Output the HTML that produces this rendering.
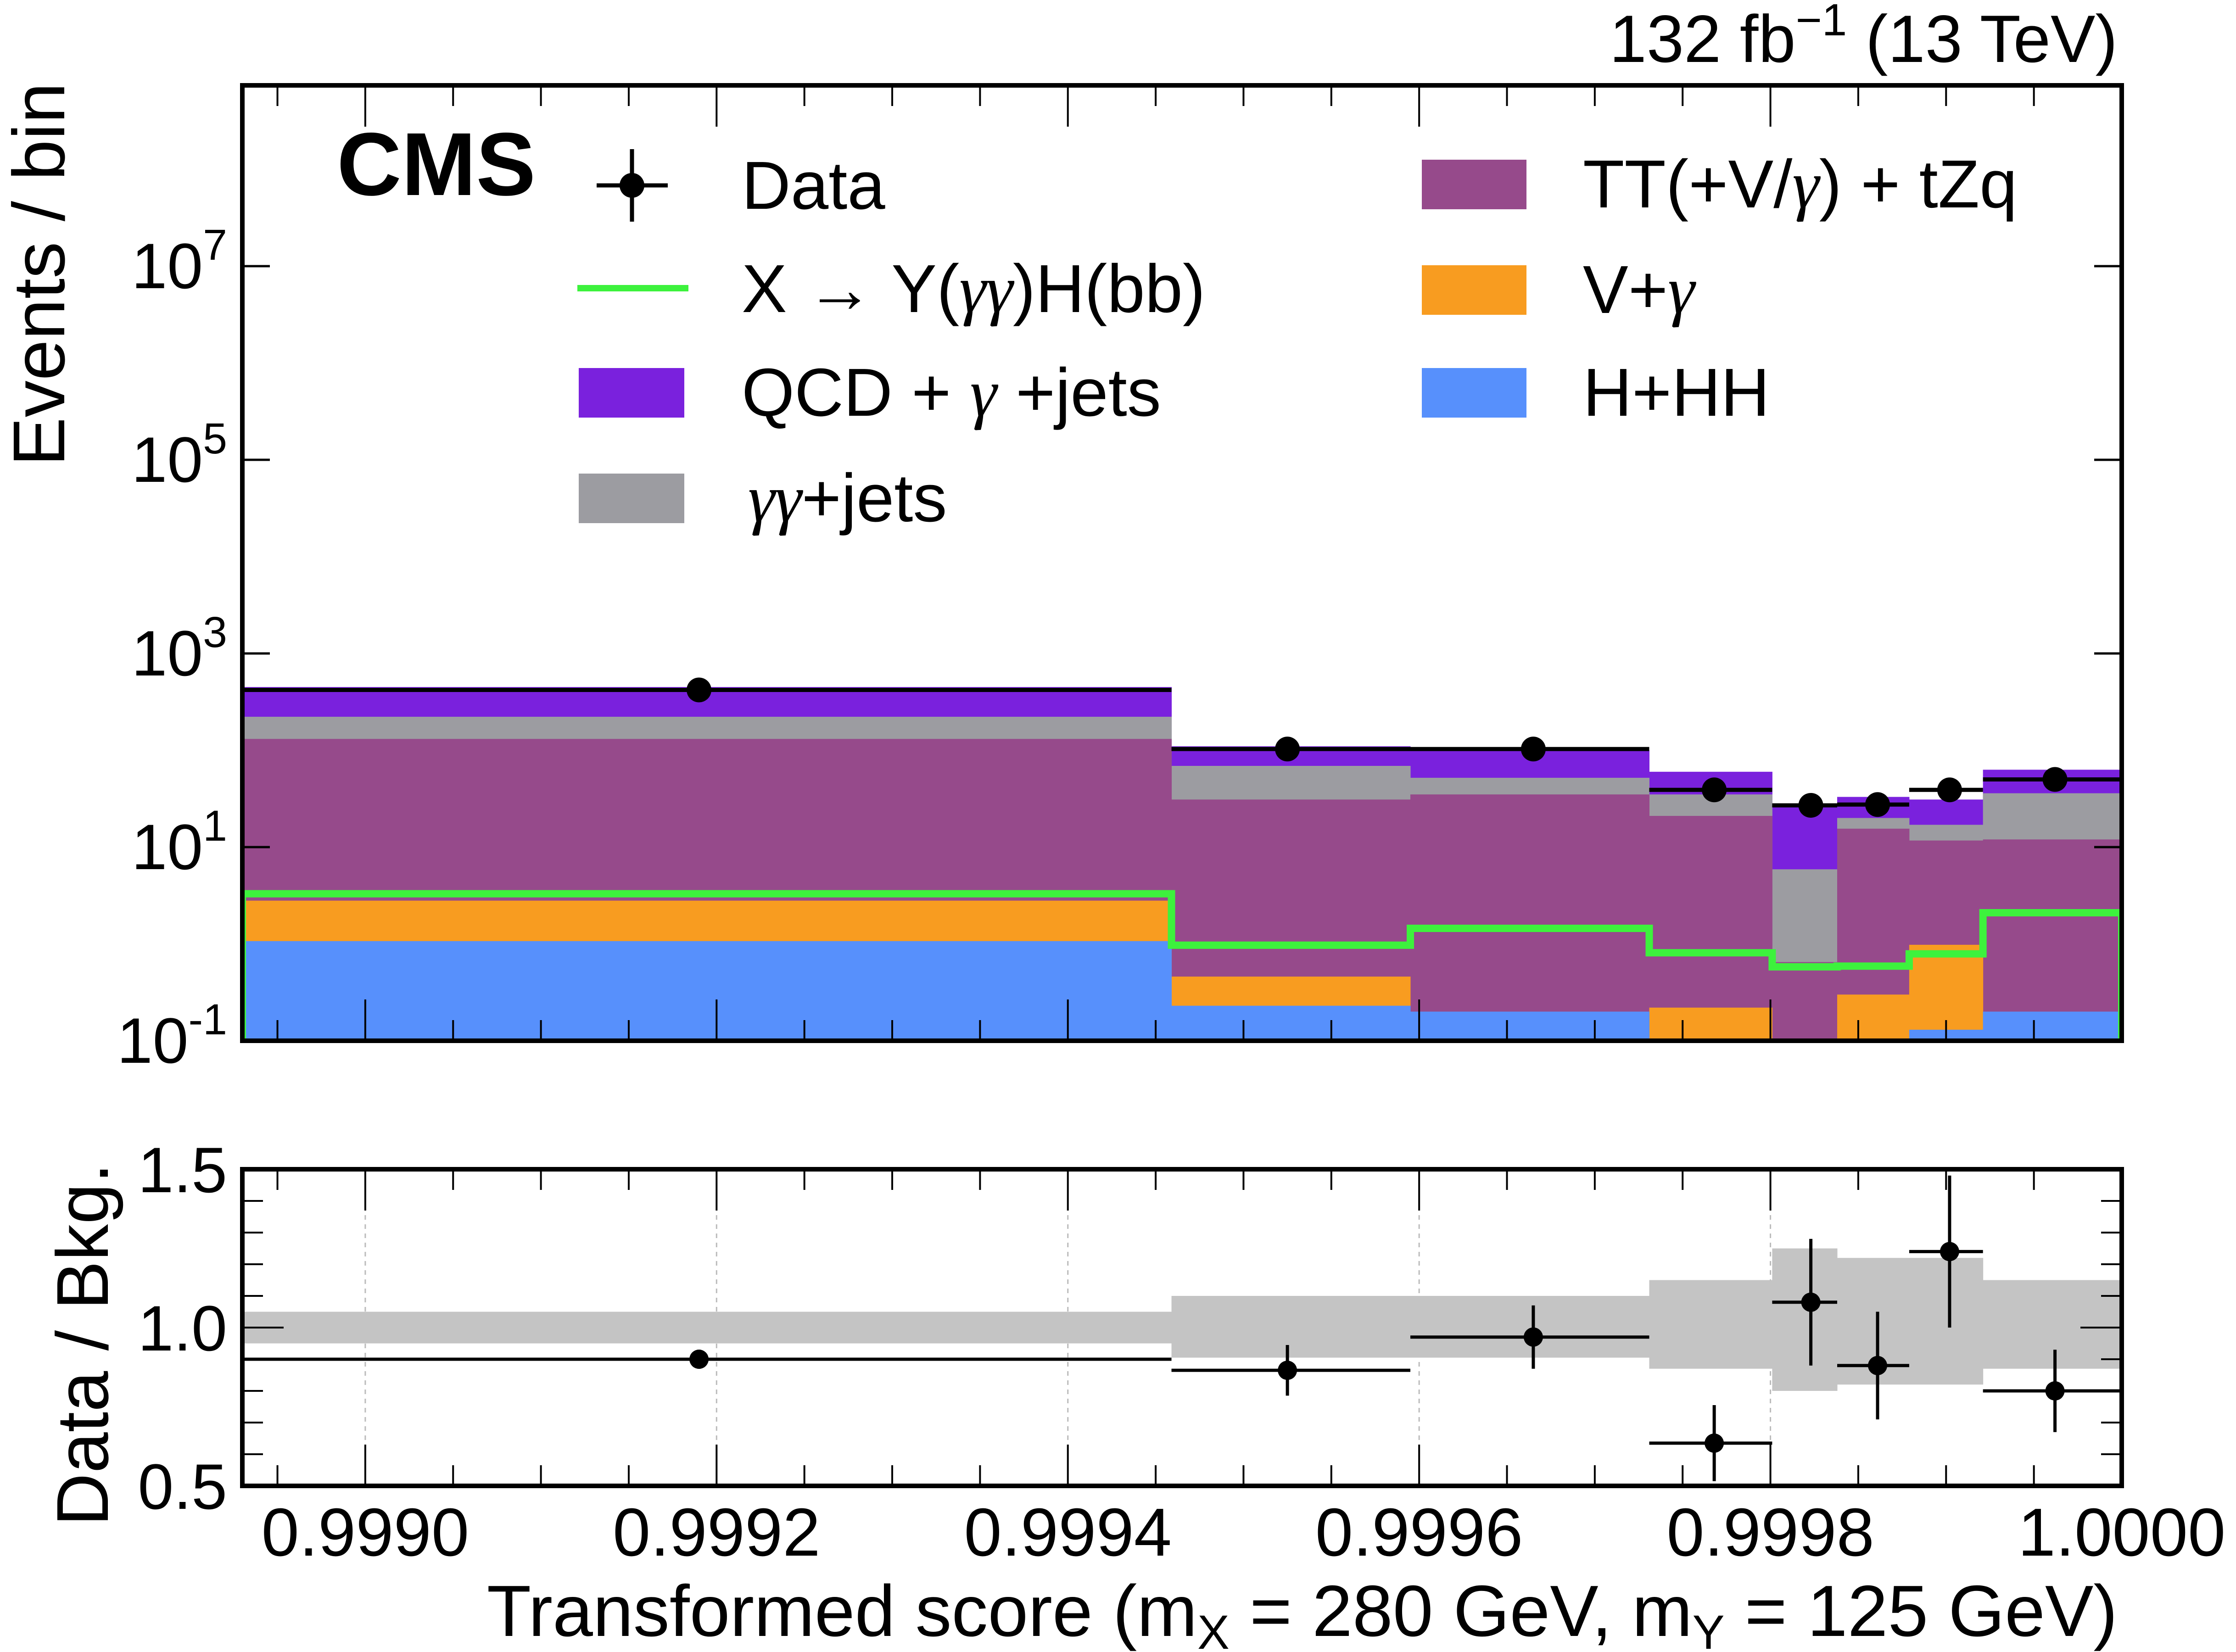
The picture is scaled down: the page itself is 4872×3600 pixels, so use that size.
<!DOCTYPE html>
<html><head><meta charset="utf-8">
<style>
html,body{margin:0;padding:0;background:#fff;}
svg{display:block;font-family:"Liberation Sans",sans-serif;}
</style></head>
<body>
<svg id="chart" width="4872" height="3600" viewBox="0 0 4872 3600" xmlns="http://www.w3.org/2000/svg">
<g id="main"></g>
<g id="ratio"></g>
<g id="labels"></g>
</svg>
<script>
// ---- data ----
const binEdges = [0.99893, 0.999459, 0.999595, 0.999731, 0.999801, 0.999838, 0.999879, 0.999921, 1.0];
// cumulative stack tops (bottom to top)
const hhTop   = [1.07, 0.23, 0.20, 0.05, 0.05, 0.05, 0.13, 0.20];
const vgTop   = [2.8, 0.46, 0.20, 0.22, 0.05, 0.30, 0.98, 0.20];
const ttTop   = [131, 31, 35, 21, 0.65, 15.5, 11.7, 12];
const ggTop   = [222, 69, 52, 35, 5.9, 20, 17, 36];
const qcdTop  = [450, 110, 100, 60, 26, 33, 31, 63];
const signal  = [3.3, 0.97, 1.45, 0.81, 0.58, 0.59, 0.79, 2.1];
const dataVal = [420, 103, 103, 39, 27, 27.5, 39, 50];
const dataX   = [0.99919, 0.999525, 0.999665, 0.999768, 0.999823, 0.999861, 0.999902, 0.999962];
const ratioVal = [0.90, 0.865, 0.97, 0.635, 1.08, 0.88, 1.24, 0.80];
const ratioErr = [0.03, 0.08, 0.10, 0.12, 0.20, 0.17, 0.24, 0.13];
const bandLo = [0.95, 0.905, 0.905, 0.87, 0.80, 0.82, 0.82, 0.87];
const bandHi = [1.05, 1.10, 1.10, 1.15, 1.25, 1.22, 1.22, 1.15];
const xTicks = [0.9990, 0.9992, 0.9994, 0.9996, 0.9998, 1.0000];
const xTickLabels = ["0.9990","0.9992","0.9994","0.9996","0.9998","1.0000"];
const yExps = [-1, 1, 3, 5, 7];
const rTicks = [0.5, 1.0, 1.5];
const rTickLabels = ["0.5","1.0","1.5"];

// ---- geometry ----
const L=528, R=4623, T=186, B=2268, RT=2548, RB=3238;
const X0=0.99893, X1=1.0;
const x = v => L + (v-X0)/(X1-X0)*(R-L);
const y = v => B - (Math.log10(v)+1)*211;
const yr = v => RB - (v-0.5)/1.0*(RB-RT);
const NS="http://www.w3.org/2000/svg";
function mk(tag, attrs, parent){const e=document.createElementNS(NS,tag);for(const k in attrs)e.setAttribute(k,attrs[k]);parent.appendChild(e);return e;}
const main=document.getElementById('main'), ratio=document.getElementById('ratio'), labels=document.getElementById('labels');

const defs=mk('defs',{},document.getElementById('chart'));
const cp=mk('clipPath',{id:'cm'},defs); mk('rect',{x:L,y:T,width:R-L,height:B-T},cp);
const cr=mk('clipPath',{id:'cr'},defs); mk('rect',{x:L,y:RT,width:R-L,height:RB-RT},cr);
const gm=mk('g',{'clip-path':'url(#cm)'},main);
const gr=mk('g',{'clip-path':'url(#cr)'},ratio);

const layers=[[qcdTop,'#7a21dd','qcd'],[ggTop,'#9c9ca1','gg'],[ttTop,'#964a8b','tt'],[vgTop,'#f89c20','vg'],[hhTop,'#5790fc','hh']];
layers.forEach(([arr,col,nm])=>{
  for(let i=0;i<arr.length;i++){
    const x0=x(binEdges[i]), x1=x(binEdges[i+1]), yt=y(arr[i]);
    const r=mk('rect',{x:x0,y:yt,width:x1-x0+0.5,height:Math.max(0,B-yt),fill:col},gm);
    
    
  }
});
let d='';
for(let i=0;i<signal.length;i++){
  const x0=x(binEdges[i]), x1=x(binEdges[i+1]), yy=y(signal[i]);
  d += (i===0?`M${x0},${B} L${x0},${yy}`:` L${x0},${yy}`)+` L${x1},${yy}`;
}
d+=` L${x(binEdges[signal.length])},${B}`;
const sl=mk('path',{d:d,fill:'none',stroke:'#3df23d','stroke-width':16},gm);


for(let i=0;i<dataVal.length;i++){
  const yy=y(dataVal[i]);
  const ln=mk('line',{x1:x(binEdges[i]),x2:x(binEdges[i+1]),y1:yy,y2:yy,stroke:'#000','stroke-width':9},gm);
  
  
  const c=mk('circle',{cx:x(dataX[i]),cy:yy,r:27,fill:'#000'},gm);
  
  
}
for(let e=-1;e<=8;e+=2){
  const yy=y(Math.pow(10,e)); if(yy<T) continue;
  mk('line',{x1:L,x2:L+60,y1:yy,y2:yy,stroke:'#000','stroke-width':5},main);
  mk('line',{x1:R-60,x2:R,y1:yy,y2:yy,stroke:'#000','stroke-width':5},main);
}
for(let v=0.99895; v<=1.0000001; v+=0.00005){
  const xx=x(v), major=Math.abs(Math.round(v/0.0002)*0.0002-v)<1e-9;
  const len=major?90:45;
  mk('line',{x1:xx,x2:xx,y1:T,y2:T+len,stroke:'#000','stroke-width':4},main);
  mk('line',{x1:xx,x2:xx,y1:B,y2:B-len,stroke:'#000','stroke-width':4},main);
  mk('line',{x1:xx,x2:xx,y1:RT,y2:RT+len,stroke:'#000','stroke-width':4},ratio);
  mk('line',{x1:xx,x2:xx,y1:RB,y2:RB-len,stroke:'#000','stroke-width':4},ratio);
}
const mf=mk('rect',{x:L,y:T,width:R-L,height:B-T,fill:'none',stroke:'#000','stroke-width':10},main);


yExps.forEach(e=>{
  const t=mk('text',{x:495,y:y(Math.pow(10,e))+48,'text-anchor':'end','font-size':140},labels);
  
  
  t.innerHTML=`10<tspan dy="-62" font-size="95">${e}</tspan>`;
});

xTicks.forEach(v=>{ mk('line',{x1:x(v),x2:x(v),y1:RT,y2:RB,stroke:'#bbb','stroke-width':3,'stroke-dasharray':'10,10'},gr); });
for(let i=0;i<bandLo.length;i++){
  const r=mk('rect',{x:x(binEdges[i]),y:yr(bandHi[i]),width:x(binEdges[i+1])-x(binEdges[i])+0.5,height:yr(bandLo[i])-yr(bandHi[i]),fill:'#c4c4c4'},gr);
  
  
}
for(let i=0;i<ratioVal.length;i++){
  const yy=yr(ratioVal[i]), xx=x(dataX[i]);
  mk('line',{x1:x(binEdges[i]),x2:x(binEdges[i+1]),y1:yy,y2:yy,stroke:'#000','stroke-width':7},gr);
  mk('line',{x1:xx,x2:xx,y1:yr(ratioVal[i]+ratioErr[i]),y2:yr(ratioVal[i]-ratioErr[i]),stroke:'#000','stroke-width':7},gr);
  const c=mk('circle',{cx:xx,cy:yy,r:21,fill:'#000'},gr);
  
  
}
for(let v=0.5; v<=1.5001; v+=0.1){
  const yy=yr(v), maj=Math.abs(v-1.0)<1e-6||Math.abs(v-0.5)<1e-6||Math.abs(v-1.5)<1e-6;
  const len=maj?90:45;
  mk('line',{x1:L,x2:L+len,y1:yy,y2:yy,stroke:'#000','stroke-width':4},ratio);
  mk('line',{x1:R-len,x2:R,y1:yy,y2:yy,stroke:'#000','stroke-width':4},ratio);
}
const rf=mk('rect',{x:L,y:RT,width:R-L,height:RB-RT,fill:'none',stroke:'#000','stroke-width':10},ratio);


rTicks.forEach((v,i)=>{
  const t=mk('text',{x:495,y:yr(v)+50,'text-anchor':'end','font-size':140},labels);
  
  
  t.textContent=rTickLabels[i];
});
xTicks.forEach((v,i)=>{
  const t=mk('text',{x:x(v),y:3390,'text-anchor':'middle','font-size':148},labels);
  
  
  t.textContent=xTickLabels[i];
});
</script>
<svg style="position:absolute;left:0;top:0" width="4872" height="3600" viewBox="0 0 4872 3600" xmlns="http://www.w3.org/2000/svg" font-family="Liberation Sans, sans-serif">
<text x="4614" y="135" text-anchor="end" font-size="146">132 fb<tspan dy="-58" font-size="98">−1</tspan><tspan dy="58"> (13 TeV)</tspan></text>
<text transform="translate(140,598) rotate(-90)" text-anchor="middle" font-size="160">Events / bin</text>
<text transform="translate(235,2930) rotate(-90)" text-anchor="middle" font-size="160">Data / Bkg.</text>
<text x="4614" y="3565" text-anchor="end" font-size="158">Transformed score (m<tspan dy="28" font-size="105">X</tspan><tspan dy="-28"> = 280 GeV, m</tspan><tspan dy="28" font-size="105">Y</tspan><tspan dy="-28"> = 125 GeV)</tspan></text>
<text x="734" y="425" font-size="195" font-weight="bold">CMS</text>
<g font-size="148">
  <g>
    <line x1="1300" x2="1455" y1="404" y2="404" stroke="#000" stroke-width="9"/>
    <line x1="1377" x2="1377" y1="325" y2="483" stroke="#000" stroke-width="9"/>
    <circle cx="1377" cy="404" r="27" fill="#000"/>
    <text x="1616" y="455">Data</text>
  </g>
  <g>
    <line x1="1258" x2="1500" y1="628" y2="628" stroke="#3df23d" stroke-width="14"/>
    <text x="1616" y="680">X  → Y(<tspan font-family="Liberation Serif, serif" font-style="italic">γγ</tspan>)H(bb)</text>
  </g>
  <g>
    <rect x="1261" y="802" width="230" height="108" fill="#7a21dd"/>
    <text x="1616" y="906">QCD + <tspan font-family="Liberation Serif, serif" font-style="italic">γ</tspan> +jets</text>
  </g>
  <g>
    <rect x="1261" y="1032" width="230" height="108" fill="#9c9ca1"/>
    <text x="1630" y="1136"><tspan font-family="Liberation Serif, serif" font-style="italic">γγ</tspan>+jets</text>
  </g>
  <g>
    <rect x="3098" y="348" width="228" height="108" fill="#964a8b"/>
    <text x="3449" y="452">TT(+V/<tspan font-family="Liberation Serif, serif" font-style="italic">γ</tspan>) + tZq</text>
  </g>
  <g>
    <rect x="3098" y="578" width="228" height="108" fill="#f89c20"/>
    <text x="3449" y="682">V+<tspan font-family="Liberation Serif, serif" font-style="italic">γ</tspan></text>
  </g>
  <g>
    <rect x="3098" y="802" width="228" height="108" fill="#5790fc"/>
    <text x="3449" y="906">H+HH</text>
  </g>
</g>
</svg>
</body></html>
